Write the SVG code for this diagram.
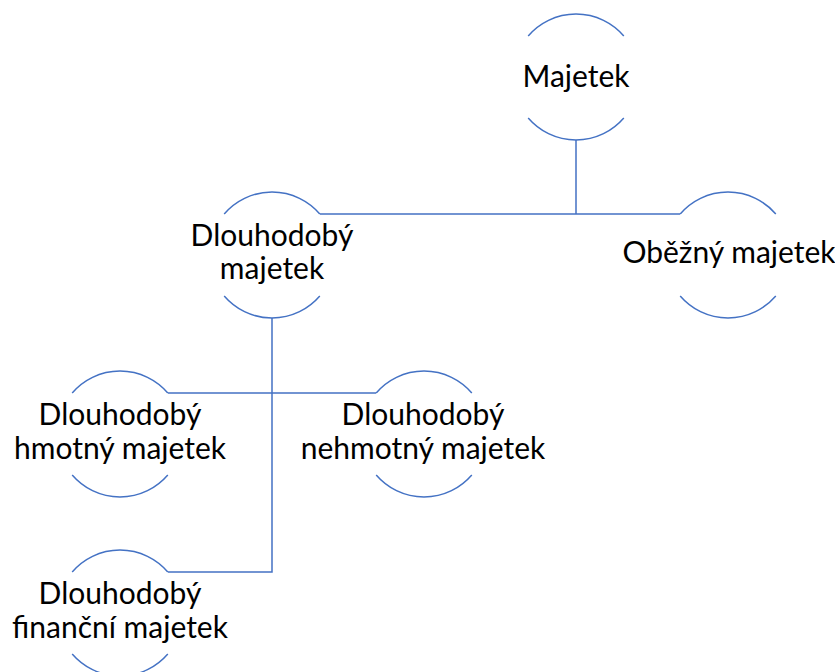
<svg xmlns="http://www.w3.org/2000/svg" xmlns:xlink="http://www.w3.org/1999/xlink" width="835" height="672" viewBox="0 0 835 672">
<style>
.ln{fill:none;stroke:#4472C4;stroke-width:1.5}
.t{font-family:Lato,"Liberation Sans",sans-serif;font-size:30px;fill:#000;text-anchor:middle}
</style>
<defs>
<path id="ring" class="ln" d="M -47.8 -41 A 63 63 0 0 1 47.8 -41 M -47.8 41 A 63 63 0 0 0 47.8 41"/>
</defs>
<rect width="835" height="672" fill="#fff"/>
<g id="connectors" class="ln">
<path d="M576 140 V214 M320 214 H680"/>
<path d="M272 318 V572 H168 M168 393 H376"/>
</g>
<g id="majetek"><use xlink:href="#ring" x="576" y="77"/><text class="t" x="576" y="87">Majetek</text></g>
<g id="dlouhodoby"><use xlink:href="#ring" x="272" y="255"/><text class="t" x="272" y="246">Dlouhodobý</text><text class="t" x="272" y="279">majetek</text></g>
<g id="obezny"><use xlink:href="#ring" x="728" y="255"/><text class="t" x="729" y="263">Oběžný majetek</text></g>
<g id="hmotny"><use xlink:href="#ring" x="120" y="434"/><text class="t" x="120" y="425">Dlouhodobý</text><text class="t" x="120" y="459">hmotný majetek</text></g>
<g id="nehmotny"><use xlink:href="#ring" x="424" y="434"/><text class="t" x="423" y="425">Dlouhodobý</text><text class="t" x="423" y="459">nehmotný majetek</text></g>
<g id="financni"><use xlink:href="#ring" x="120" y="613"/><text class="t" x="120" y="604">Dlouhodobý</text><text class="t" x="120" y="638">finanční majetek</text></g>
</svg>
